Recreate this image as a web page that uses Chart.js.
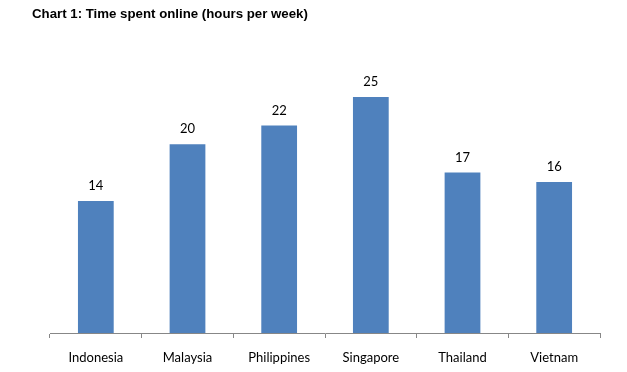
<!DOCTYPE html>
<html>
<head>
<meta charset="utf-8">
<script src="https://cdn.jsdelivr.net/npm/chart.js@4"></script>
<style>
  html, body { margin: 0; padding: 0; background: #fff; }
  #wrap { width: 627px; height: 372px; }
</style>
</head>
<body>
<div id="wrap"><canvas id="chart" width="627" height="372"></canvas></div>
<script>
const countries = ['Indonesia', 'Malaysia', 'Philippines', 'Singapore', 'Thailand', 'Vietnam'];
const hoursPerWeek = [14, 20, 22, 25, 17, 16];

// value labels above each bar
const barLabels = {
    id: 'barLabels',
    afterDatasetsDraw(chart) {
        const ctx = chart.ctx;
        const meta = chart.getDatasetMeta(0);
        ctx.save();
        ctx.font = '13px Lato';
        ctx.fillStyle = '#000';
        ctx.textAlign = 'center';
        ctx.textBaseline = 'middle';
        meta.data.forEach(function(bar, i) {
            ctx.fillText(String(hoursPerWeek[i]), bar.x, bar.y - 15);
        });
        ctx.restore();
    }
};

document.addEventListener('DOMContentLoaded', function() {
    const ctx = document.getElementById('chart').getContext('2d');
    new Chart(ctx, {
        type: 'bar',
        data: {
            labels: countries,
            datasets: [{
                data: hoursPerWeek,
                backgroundColor: '#4F81BD',
                borderWidth: 0,
                barPercentage: 0.39,
                categoryPercentage: 1
            }]
        },
        options: {
            responsive: false,
            animation: false,
            layout: { padding: { left: 32, right: 27, top: 0, bottom: 0 } },
            scales: {
                y: {
                    min: 0,
                    max: 30,
                    ticks: { display: false },
                    grid: { display: false },
                    border: { display: false },
                    afterFit: function(scale) { scale.width = 18; }
                },
                x: {
                    grid: {
                        drawOnChartArea: false,
                        drawTicks: true,
                        tickLength: 5,
                        color: '#878787',
                        offset: true
                    },
                    border: { display: true, color: '#878787' },
                    ticks: {
                        padding: 12,
                        color: '#000',
                        font: { family: 'Lato', size: 13 }
                    },
                    afterFit: function(scale) { scale.height = 39; }
                }
            },
            plugins: {
                legend: { display: false },
                tooltip: { enabled: false },
                title: {
                    display: true,
                    text: 'Chart 1: Time spent online (hours per week)',
                    align: 'start',
                    color: '#000',
                    font: { family: 'Liberation Sans', size: 13.25, weight: 'bold' },
                    padding: { top: 6, bottom: 28 }
                }
            }
        },
        plugins: [barLabels]
    });
});
</script>
</body>
</html>
